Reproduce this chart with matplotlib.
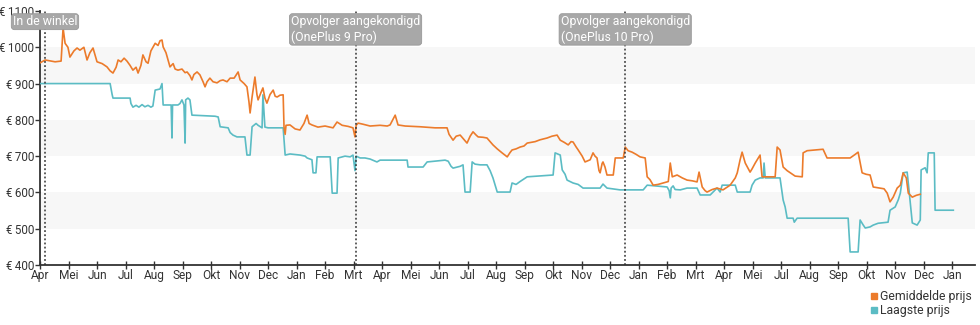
import matplotlib.pyplot as plt
from matplotlib.lines import Line2D

plt.rcParams['font.family'] = ['Roboto', 'DejaVu Sans']

# Maandlabels op de x-as (positie = index)
maanden = ['Apr', 'Mei', 'Jun', 'Jul', 'Aug', 'Sep', 'Okt', 'Nov', 'Dec', 'Jan', 'Feb', 'Mrt',
           'Apr', 'Mei', 'Jun', 'Jul', 'Aug', 'Sep', 'Okt', 'Nov', 'Dec', 'Jan', 'Feb', 'Mrt',
           'Apr', 'Mei', 'Jul', 'Aug', 'Sep', 'Okt', 'Nov', 'Dec', 'Jan']

# Gemiddelde prijs: tijd in maanden sinds begin, prijs in euro
gem_t = [0.00, 0.18, 0.53, 0.74, 0.81, 0.88, 0.98, 1.05, 1.19, 1.30, 1.40, 1.54, 1.65, 1.75, 1.86,
         2.00, 2.18, 2.35, 2.46, 2.56, 2.67, 2.74, 2.84, 2.95, 3.05, 3.16, 3.26, 3.37, 3.44, 3.54,
         3.61, 3.72, 3.79, 3.89, 4.04, 4.14, 4.21, 4.28, 4.32, 4.42, 4.56, 4.67, 4.74, 4.84, 4.98,
         5.09, 5.16, 5.26, 5.33, 5.40, 5.51, 5.61, 5.72, 5.79, 5.86, 5.96, 6.07, 6.21, 6.32, 6.42,
         6.56, 6.67, 6.81, 6.95, 7.02, 7.16, 7.26, 7.33, 7.37, 7.44, 7.54, 7.61, 7.65, 7.75, 7.82,
         7.89, 7.96, 8.07, 8.18, 8.25, 8.32, 8.42, 8.53, 8.56, 8.60, 8.63, 8.77, 8.95, 9.12, 9.26,
         9.37, 9.44, 9.54, 9.75, 10.00, 10.28, 10.42, 10.60, 10.81, 10.98, 11.05, 11.09, 11.16,
         11.33, 11.58, 11.93, 12.18, 12.28, 12.46, 12.56, 12.81, 13.33, 13.86, 14.28, 14.35, 14.49,
         14.60, 14.74, 14.88, 14.98, 15.09, 15.19, 15.30, 15.37, 15.54, 15.68, 15.79, 15.89, 16.04,
         16.21, 16.39, 16.49, 16.56, 16.70, 16.84, 16.98, 17.09, 17.37, 17.54, 17.79, 17.96, 18.14,
         18.25, 18.39, 18.53, 18.63, 18.70, 18.81, 18.88, 19.02, 19.12, 19.30, 19.40, 19.47, 19.54,
         19.61, 19.65, 19.72, 19.75, 19.82, 19.89, 20.11, 20.18, 20.46, 20.53, 20.63, 20.77, 20.91,
         21.05, 21.23, 21.30, 21.40, 21.51, 21.68, 21.86, 22.04, 22.11, 22.18, 22.35, 22.53, 22.70,
         22.88, 23.05, 23.12, 23.23, 23.33, 23.40, 23.58, 23.75, 23.96, 24.21, 24.39, 24.46, 24.56,
         24.63, 24.74, 24.91, 24.98, 25.09, 25.26, 25.33, 25.79, 25.86, 25.96, 26.07, 26.21, 26.32,
         26.49, 26.74, 26.77, 26.91, 27.19, 27.47, 27.61, 28.07, 28.42, 28.60, 28.70, 28.84, 28.98,
         29.12, 29.23, 29.47, 29.61, 29.72, 29.82, 29.93, 30.07, 30.18, 30.28, 30.39, 30.46, 30.60,
         30.74, 30.88]
gem_prijs = [957, 965, 960, 962, 1053, 1011, 1000, 973, 990, 998, 992, 1000, 965, 985, 998,
             960, 955, 946, 935, 929, 945, 965, 960, 970, 962, 950, 937, 945, 929, 950,
             979, 960, 956, 990, 1011, 1005, 1018, 1020, 1001, 985, 946, 955, 940, 937, 940,
             930, 932, 922, 910, 925, 932, 924, 905, 891, 905, 915, 905, 902, 908, 910,
             905, 915, 915, 932, 910, 900, 891, 850, 819, 863, 918, 870, 855, 875, 888,
             860, 846, 870, 882, 865, 863, 868, 869, 780, 760, 785, 786, 775, 772, 790,
             813, 790, 786, 780, 783, 778, 794, 785, 782, 778, 753, 785, 791,
             788, 783, 785, 783, 786, 813, 786, 783, 781, 778, 778, 760, 744,
             755, 758, 745, 736, 755, 767, 758, 753, 752, 750, 740, 731, 720,
             709, 698, 710, 717, 720, 725, 728, 736, 740, 745, 750, 755, 758,
             744, 738, 731, 740, 739, 725, 717, 700, 684, 690, 709, 700, 695,
             660, 654, 680, 684, 670, 648, 648, 695, 695, 725, 715, 711, 705,
             698, 695, 643, 635, 620, 622, 626, 630, 681, 643, 648, 640, 634,
             632, 629, 656, 615, 605, 601, 608, 612, 607, 620, 640, 654, 690,
             711, 681, 656, 665, 681, 703, 643, 643, 725, 717, 670, 660, 654,
             645, 643, 709, 715, 717, 719, 695, 695, 695, 705, 711, 654, 650,
             648, 615, 612, 610, 598, 574, 587, 612, 620, 654, 640, 598, 587,
             592, 595]

# Laagste prijs
laag_t = [0.00, 2.46, 2.53, 2.56, 3.16, 3.19, 3.26, 3.37, 3.47, 3.58, 3.68, 3.79, 3.89, 3.96,
          4.00, 4.04, 4.21, 4.28, 4.32, 4.60, 4.63, 4.65, 4.84, 4.91, 4.98, 5.05, 5.09, 5.11,
          5.19, 5.26, 5.33, 6.14, 6.25, 6.32, 6.60, 6.67, 6.77, 6.91, 7.19, 7.26, 7.37, 7.44,
          7.58, 7.65, 7.79, 7.82, 7.89, 8.00, 8.53, 8.60, 8.77, 9.12, 9.30, 9.37, 9.54, 9.58,
          9.68, 9.72, 10.18, 10.25, 10.42, 10.46, 10.70, 10.88, 10.98, 11.05, 11.09, 11.23, 11.40,
          11.58, 11.82, 11.93, 12.88, 12.91, 13.44, 13.58, 14.21, 14.32, 14.42, 14.49, 14.74, 14.84,
          14.91, 15.09, 15.16, 15.26, 15.44, 15.68, 15.79, 15.89, 16.04, 16.49, 16.56, 16.70, 16.84,
          17.09, 18.00, 18.07, 18.25, 18.32, 18.42, 18.49, 18.70, 18.88, 19.05, 19.65, 19.75, 19.89,
          20.07, 20.35, 21.16, 21.30, 22.00, 22.07, 22.11, 22.14, 22.21, 22.28, 22.46, 22.70, 23.05,
          23.16, 23.51, 23.61, 23.75, 23.86, 23.93, 24.39, 24.46, 24.91, 24.98, 25.09, 25.26, 25.37,
          25.40, 25.44, 25.96, 26.07, 26.14, 26.21, 26.42, 26.46, 26.56, 28.35, 28.42, 28.70, 28.77,
          28.88, 28.95, 29.12, 29.23, 29.40, 29.75, 29.82, 30.00, 30.11, 30.18, 30.28, 30.42, 30.46,
          30.60, 30.77, 30.88, 30.91, 31.05, 31.12, 31.16, 31.37, 31.40, 32.04]
laag_prijs = [900, 900, 870, 860, 860, 845, 835, 840, 835, 842, 836, 840, 835, 838,
              860, 882, 885, 900, 841, 841, 750, 841, 841, 845, 855, 841, 736, 855,
              860, 855, 813, 810, 808, 781, 778, 765, 758, 753, 753, 703, 703, 781,
              790, 785, 778, 869, 780, 778, 778, 703, 706, 703, 700, 695, 690, 654,
              654, 698, 698, 598, 598, 695, 700, 698, 703, 660, 700, 695, 695,
              692, 684, 689, 689, 670, 670, 684, 689, 686, 672, 667, 672, 676,
              601, 601, 684, 678, 676, 676, 660, 640, 601, 601, 626, 622, 630,
              643, 648, 709, 703, 662, 650, 634, 626, 622, 612, 612, 623, 612,
              610, 607, 607, 620, 615, 605, 585, 612, 618, 608, 607, 612, 612,
              593, 593, 601, 612, 601, 620, 620, 601, 601, 620, 634, 640, 640,
              681, 640, 640, 579, 560, 529, 529, 518, 529, 529, 436, 436, 524,
              510, 502, 505, 510, 515, 518, 551, 560, 580, 598, 654, 656, 626,
              516, 510, 524, 662, 668, 654, 709, 709, 551, 551]

# Gebeurtenissen
gebeurtenis_t = [0.175, 11.07, 20.53]
gebeurtenis_tekst = ['In de winkel', 'Opvolger aangekondigd\n(OnePlus 9 Pro)',
                     'Opvolger aangekondigd\n(OnePlus 10 Pro)']

oranje = '#ec7b2b'
blauw = '#5bbcc4'
donker = '#333333'

fig = plt.figure(figsize=(9.8, 3.25), dpi=100)
ax = fig.add_axes([40 / 980, 1 - 265 / 325, 935 / 980, 254 / 325])

# grijze banden
for onder in [500, 700, 900]:
    ax.axhspan(onder, onder + 100, color='#f7f7f7', zorder=0, lw=0)

ax.plot(laag_t, laag_prijs, color=blauw, lw=1.2, zorder=3)
ax.plot(gem_t, gem_prijs, color=oranje, lw=1.2, zorder=4)

for t, tekst in zip(gebeurtenis_t, gebeurtenis_tekst):
    ax.axvline(t, color=donker, lw=1.1, ls=(0, (1.2, 1.5)), zorder=5)
    ax.annotate(tekst, xy=(t, 1), xycoords=('data', 'axes fraction'),
                xytext=(0, -3), textcoords='offset points',
                ha='center', va='top', multialignment='left',
                color='white', fontsize=8.8, zorder=6,
                bbox=dict(boxstyle='round,pad=0.12,rounding_size=0.25',
                          fc='#a8a8a8', ec='#999999', lw=0.6))

ax.set_xlim(0, 32.8)
ax.set_ylim(400, 1100)
ax.set_xticks(range(len(maanden)))
ax.set_xticklabels(maanden)
ax.set_yticks(range(400, 1101, 100))
ax.set_yticklabels([f'€\u2009{v}' for v in range(400, 1101, 100)], family=['Roboto', 'DejaVu Sans'])

for kant in ['top', 'right']:
    ax.spines[kant].set_visible(False)
for kant in ['left', 'bottom']:
    ax.spines[kant].set_color(donker)
    ax.spines[kant].set_linewidth(1.3)

ax.tick_params(axis='x', direction='inout', length=6, width=1, color=donker,
               labelsize=8.6, labelcolor=donker, pad=0)
ax.tick_params(axis='y', direction='out', length=3.5, width=1, color=donker,
               labelsize=8.4, labelcolor=donker, pad=0.5)

handles = [Line2D([], [], ls='', marker='s', ms=5, color=oranje),
           Line2D([], [], ls='', marker='s', ms=5, color=blauw)]
fig.legend(handles, ['Gemiddelde prijs', 'Laagste prijs'],
           loc='upper right', bbox_to_anchor=(0.992, 1 - 290 / 325),
           frameon=False, fontsize=8.8, handlelength=0.6, handletextpad=0.2,
           labelspacing=0.08, borderpad=0, borderaxespad=0, labelcolor=donker)

fig.savefig('out.png', dpi=100)
